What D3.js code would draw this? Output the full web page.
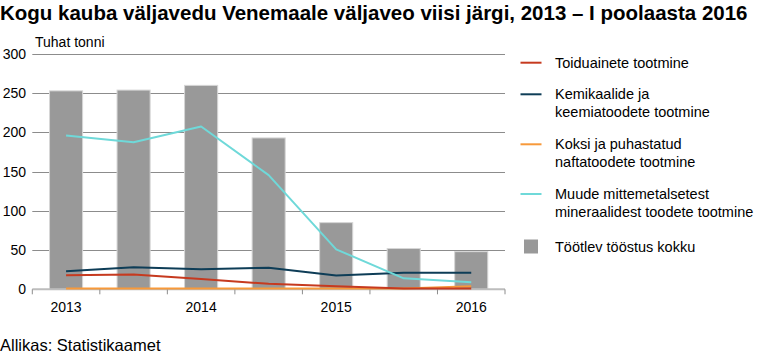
<!DOCTYPE html>
<html><head><meta charset="utf-8">
<script src="https://cdn.jsdelivr.net/npm/d3@7"></script>
<style>
body{margin:0;background:#fff;}
svg{display:block;}
text{font-family:"Liberation Sans",Arial,sans-serif;fill:#000;}
.narrow{font-family:"Liberation Sans Narrow","Arial Narrow","Liberation Sans",sans-serif;}
</style></head>
<body><svg id="c" width="760" height="358"></svg>
<script>
const periods = ["2013 I","2013 II","2014 I","2014 II","2015 I","2015 II","2016 I"];
const tickLabels = {"2013 I":"2013","2014 I":"2014","2015 I":"2015","2016 I":"2016"};
const yTicks = [0,50,100,150,200,250,300];
const total = [253,254,260,193,85,52,48];
const toidu = [18,19,13,7,4,1,1];
const kemi = [23,28,25.5,27.5,17.5,21,21];
const koksi = [1,1,1,1,1,1,4];
const muude = [196,187.5,207.5,145.5,51,14,9];
const seriesNames = ["Toiduainete tootmine","Kemikaalide ja\nkeemiatoodete tootmine","Koksi ja puhastatud\nnaftatoodete tootmine","Muude mittemetalsetest\nmineraalidest toodete tootmine"];
const barName = "Töötlev tööstus kokku";
const colors = ["#c63a1f","#0e3d57","#f7993a","#6fd9d9"];
const lineData = [toidu,kemi,koksi,muude];

const svg = d3.select("#c");
const x = d3.scaleBand().domain(periods).range([32.3,505]).paddingInner(0).paddingOuter(0);
const y = d3.scaleLinear().domain([0,300]).range([289.3,54]);

// title: size fitted so natural width fits 748px
const title = svg.append("text").attr("class","narrow").attr("x",0).attr("y",20)
  .attr("font-size",21).attr("font-weight","bold")
  .text("Kogu kauba väljavedu Venemaale väljaveo viisi järgi, 2013 – I poolaasta 2016");
const w0 = title.node().getComputedTextLength();
if (w0 > 748) title.attr("font-size", Math.floor(21*748/w0*10)/10);
svg.append("text").attr("class","narrow").attr("x",35).attr("y",47).attr("font-size",14)
  .text("Tuhat tonni");

// grid
svg.append("g").selectAll("line").data(yTicks.filter(d=>d>0)).join("line")
  .attr("x1",32.3).attr("x2",505).attr("y1",d=>Math.round(y(d))+0.5).attr("y2",d=>Math.round(y(d))+0.5)
  .attr("stroke","#8c8c8c").attr("stroke-width",1);

// y labels
svg.append("g").selectAll("text").data(yTicks).join("text")
  .attr("x",26).attr("y",d=>y(d)+5).attr("text-anchor","end").attr("font-size",14).text(d=>d);

// bars
const bw = x.bandwidth()*0.49;
svg.append("g").selectAll("rect").data(periods).join("rect")
  .attr("x",(d)=>x(d)+x.bandwidth()/2-bw/2).attr("width",bw)
  .attr("y",(d,i)=>y(total[i])).attr("height",(d,i)=>y(0)-y(total[i]))
  .attr("fill","#999999").attr("stroke","#d6d6d6").attr("stroke-width",1);

// axis
const ax = svg.append("g").attr("transform","translate(0,289.3)");
ax.append("line").attr("x1",32.3).attr("x2",505).attr("stroke","#bdbdbd").attr("stroke-width",2);
const tickPos = periods.map(p=>x(p)).concat([505]);
ax.selectAll("line.t").data(tickPos).join("line").attr("class","t")
  .attr("x1",d=>d).attr("x2",d=>d).attr("y1",0).attr("y2",5).attr("stroke","#8c8c8c");
ax.selectAll("text").data(periods.filter(p=>tickLabels[p])).join("text")
  .attr("x",d=>x(d)+x.bandwidth()/2).attr("y",22.5).attr("text-anchor","middle").attr("font-size",14)
  .text(d=>tickLabels[d]);

// lines
const line = d3.line().x((d,i)=>x(periods[i])+x.bandwidth()/2).y(d=>y(d));
const order = [2,0,1,3];
order.forEach(k=>{
  svg.append("path").datum(lineData[k]).attr("d",line).attr("fill","none")
    .attr("stroke",colors[k]).attr("stroke-width",2).attr("stroke-linejoin","round");
});

// legend
const legY = [62.7,94.3,144.3,194];
const lg = svg.append("g");
seriesNames.forEach((n,i)=>{
  lg.append("line").attr("x1",520.5).attr("x2",541.5).attr("y1",legY[i]).attr("y2",legY[i])
    .attr("stroke",colors[i]).attr("stroke-width",2);
  n.split("\n").forEach((s,j)=>{
    lg.append("text").attr("x",555).attr("y",legY[i]+5+j*17.7).attr("font-size",14.5).text(s);
  });
});
lg.append("rect").attr("x",524).attr("y",239.5).attr("width",14).attr("height",14).attr("fill","#999999");
lg.append("text").attr("x",555).attr("y",251.5).attr("font-size",14.5).text(barName);

svg.append("text").attr("x",0).attr("y",351).attr("font-size",16.5).text("Allikas: Statistikaamet");
</script></body></html>
